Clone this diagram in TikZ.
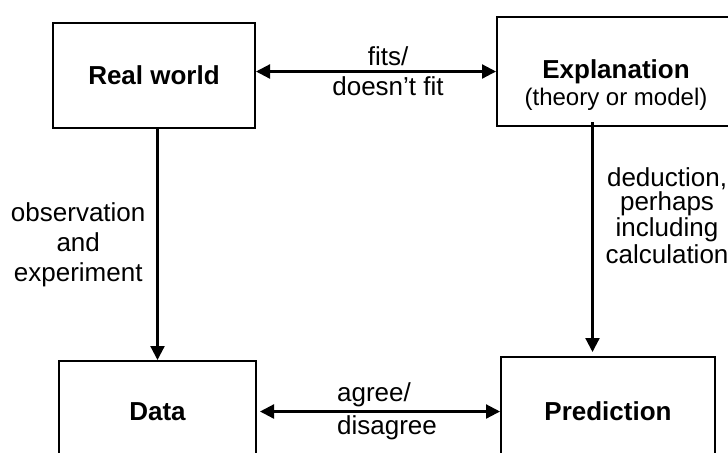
\documentclass[tikz,border=0pt]{standalone}
\usepackage{fontspec}
\setmainfont{Liberation Sans}
\usetikzlibrary{arrows.meta}

\begin{document}
\begin{tikzpicture}[
  x=0.5pt, y=-0.5pt,
  box/.style={
    draw, line width=1pt, inner sep=0pt,
    font=\fontsize{13pt}{15pt}\selectfont\bfseries
  },
  link/.style={line width=1.1pt, {Triangle[length=7pt,width=7pt]}-{Triangle[length=7pt,width=7pt]}},
  flow/.style={line width=1.1pt, -{Triangle[length=7pt,width=7pt]}},
  note/.style={
    inner sep=0pt, align=center,
    font=\fontsize{13pt}{15pt}\selectfont
  }
]
\useasboundingbox (0,0) rectangle (728,452);
\clip (0,0) rectangle (728,452);

% Boxes
\node[box, minimum width=101pt, minimum height=52.5pt] (world) at (154,75.5) {Real world};
\node[box, minimum width=119pt, minimum height=54.5pt] (expl) at (616,71.5) {};
\node[note, font=\fontsize{13pt}{13.5pt}\selectfont] (expltext) at ([yshift=-7pt]expl.center)
  {\textbf{Explanation}\\{\fontsize{12pt}{13.5pt}\selectfont(theory or model)}};
\node[box, minimum width=98.5pt, minimum height=50.5pt] (data) at (157.5,411.5) {Data};
\node[box, minimum width=107pt, minimum height=54pt] (pred) at (608,411) {Prediction};

% Horizontal links
\draw[link] (world.east |- expl.west) -- (expl.west)
  node[note, pos=0.55] (fitlabel) {fits/\\doesn’t fit};
\draw[link, shorten <=1.5pt] (data.east) -- (pred.west |- data.east)
  node[note, pos=0.535, align=left, font=\fontsize{13pt}{16.5pt}\selectfont] (agreelabel) {agree/\\disagree};

% Vertical flows
\draw[flow] (data.north |- world.south) -- (data.north)
  node[note, pos=0.50, left=5.5pt] (obslabel)
  {observation\\and\\experiment};
\coordinate (dedtop) at ([xshift=-11.75pt, yshift=2.5pt]expl.south);
\draw[flow, shorten >=2pt] (dedtop) -- (dedtop |- pred.north)
  node[note, pos=0.40, right=6pt, font=\fontsize{13pt}{12pt}\selectfont] (dedlabel)
  {deduction,\\perhaps\\including\\calculation};

\end{tikzpicture}
\end{document}
